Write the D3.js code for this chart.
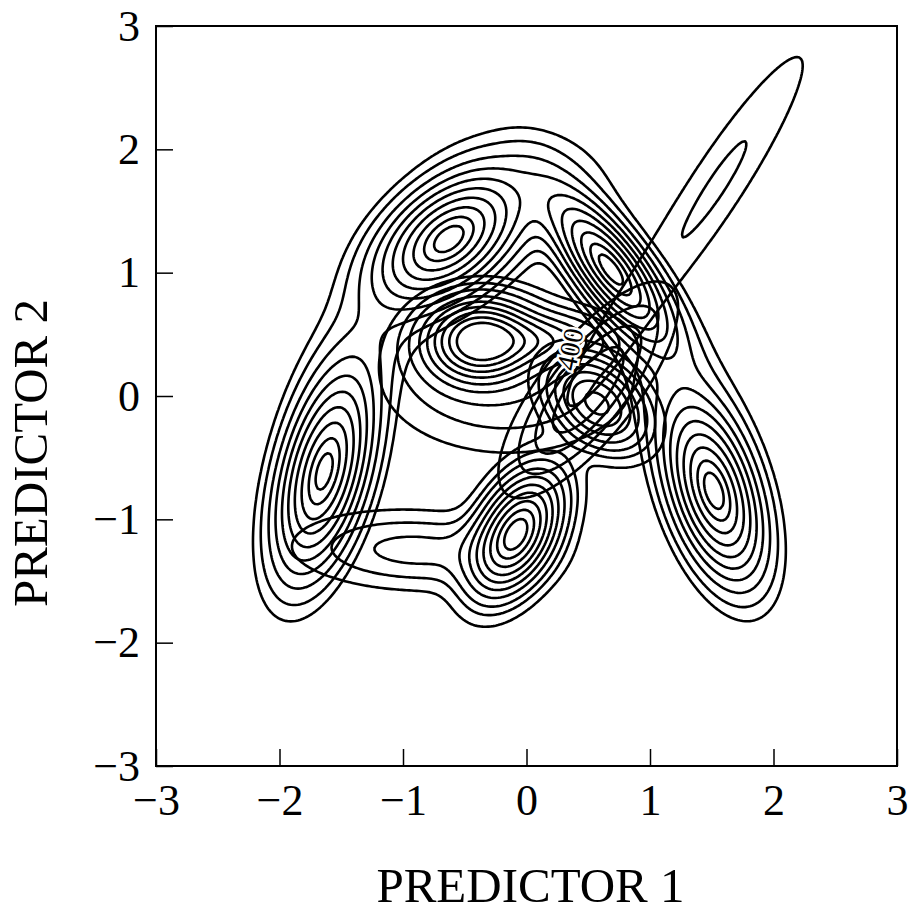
<!DOCTYPE html>
<html>
<head>
<meta charset="utf-8">
<script src="https://cdn.jsdelivr.net/npm/d3@7"></script>
<style>
  body { margin: 0; background: #fff; }
  svg text { font-family: "Liberation Serif", "DejaVu Serif", serif; fill: #000; }
</style>
</head>
<body>
<svg id="chart" width="914" height="915"></svg>
<script>
// axis ranges and tick values
let xDomain = [-3, 3];
let yDomain = [-3, 3];
let xTicks = [-3, -2, -1, 0, 1, 2, 3];
let yTicks = [-3, -2, -1, 0, 1, 2, 3];
let xTitle = 'PREDICTOR 1';
let yTitle = 'PREDICTOR 2';

// every bump: [centre x, centre y, spread along its axis, spread across, axis angle (deg), height]
// the four outer clusters, plus faint bridges that close them into the big "A"
let clusterBumps = [
    [-0.63, 1.27, 0.38, 0.23, 38, 1],
    [0.68, 1.03, 0.42, 0.15, -53, 1],
    [-1.64, -0.62, 0.48, 0.19, 75, 1],
    [1.52, -0.78, 0.42, 0.19, -72, 1],
    [0.00, 1.70, 0.45, 0.30, 0, 0.08],
    [-1.30, 0.45, 0.55, 0.25, 62, 0.08],
    [1.20, 0.10, 0.60, 0.25, -65, 0.08]
];
let clusterLevels = [0.035, 0.07, 0.13, 0.21, 0.31, 0.43, 0.57, 0.72, 0.86, 0.96];

// the central cluster with its tail and the wide plateau round it
let centreBumps = [
    [-0.38, 0.45, 0.26, 0.20, 0, 1],
    [0.15, 0.45, 0.30, 0.13, 0, 0.3],
    [-0.15, 0.15, 0.75, 0.45, 0, 0.15]
];
let centreLevels = [0.06, 0.1, 0.16, 0.25, 0.35, 0.47, 0.6, 0.75, 0.9];

// bottom cluster, the flat band to its left and the small cluster near the origin
let lowerBumps = [
    [-0.08, -1.11, 0.30, 0.17, 62, 1],
    [-0.90, -1.25, 0.55, 0.18, -2, 0.12],
    [0.57, -0.06, 0.25, 0.17, -40, 0.55]
];
let lowerLevels = [0.023, 0.056, 0.1, 0.17, 0.26, 0.37, 0.5, 0.65, 0.8, 0.93];

// long thin ridge running up to the top right
let ridgeBumps = [
    [1.55, 1.72, 0.58, 0.10, 57, 1],
    [0.80, 0.62, 0.55, 0.10, 57, 0.34]
];
let ridgeLevels = [0.11, 0.78];

// the labelled response surface crossing the small cluster
let responseBumps = [
    [0.50, 0.05, 0.50, 0.18, 52, 1]
];
let responseLevels = [0.1, 0.25, 0.45, 0.7];
let responseLabel = '400';
let responseLabelAt = [0.35, 0.38];

let svg = d3.select('#chart');
let margin = {top: 26, right: 17, bottom: 149, left: 156};
let width = 914 - margin.left - margin.right;
let height = 915 - margin.top - margin.bottom;

let xScale = d3.scaleLinear().domain(xDomain).range([margin.left, margin.left + width]);
let yScale = d3.scaleLinear().domain(yDomain).range([margin.top + height, margin.top]);

// sample a field of bumps on a square grid
let n = 300;
let step = (xDomain[1] - xDomain[0]) / n;

function sampleField(bumps) {
    let values = new Array(n * n);
    for (let j = 0; j < n; j++) {
        let y = yDomain[1] - (j + 0.5) * step;
        for (let i = 0; i < n; i++) {
            let x = xDomain[0] + (i + 0.5) * step;
            let v = 0;
            bumps.forEach(([cx, cy, a, b, ang, w]) => {
                let t = ang * Math.PI / 180;
                let dx = x - cx, dy = y - cy;
                let u = dx * Math.cos(t) + dy * Math.sin(t);
                let q = -dx * Math.sin(t) + dy * Math.cos(t);
                v += w * Math.exp(-0.5 * (u * u / (a * a) + q * q / (b * b)));
            });
            values[i + j * n] = v;
        }
    }
    return values;
}

// grid units -> screen
let toScreen = d3.geoTransform({
    point: function (gx, gy) {
        this.stream.point(xScale(xDomain[0] + gx * step), yScale(yDomain[1] - gy * step));
    }
});
let path = d3.geoPath(toScreen);

let fields = [
    [clusterBumps, clusterLevels],
    [centreBumps, centreLevels],
    [lowerBumps, lowerLevels],
    [ridgeBumps, ridgeLevels],
    [responseBumps, responseLevels]
];

let plot = svg.append('g').attr('id', 'contours');
fields.forEach(([bumps, levels]) => {
    let rings = d3.contours().size([n, n]).thresholds(levels)(sampleField(bumps));
    plot.append('g')
        .selectAll('path')
        .data(rings)
        .join('path')
        .attr('d', path)
        .attr('fill', 'none')
        .attr('stroke', '#000')
        .attr('stroke-width', 2.6)
        .attr('stroke-linejoin', 'round');
});

// contour label
plot.append('text')
    .attr('transform', `translate(${xScale(responseLabelAt[0])},${yScale(responseLabelAt[1])}) rotate(-78)`)
    .attr('text-anchor', 'middle')
    .attr('dy', '0.35em')
    .style('font-size', '28px')
    .style('paint-order', 'stroke')
    .style('stroke', '#fff')
    .style('stroke-width', 5)
    .text(responseLabel);

// frame
svg.append('rect')
    .attr('x', margin.left)
    .attr('y', margin.top)
    .attr('width', width)
    .attr('height', height)
    .attr('fill', 'none')
    .attr('stroke', '#000')
    .attr('stroke-width', 2);

// axes with ticks pointing inward
let fmt = d3.format('d');
let xAxis = d3.axisBottom(xScale).tickValues(xTicks).tickFormat(fmt)
    .tickSizeInner(-17).tickSizeOuter(0).tickPadding(18);
let yAxis = d3.axisLeft(yScale).tickValues(yTicks).tickFormat(fmt)
    .tickSizeInner(-17).tickSizeOuter(0).tickPadding(16);

svg.append('g')
    .attr('transform', `translate(0,${margin.top + height})`)
    .call(xAxis)
    .call(g => g.select('.domain').remove())
    .call(g => g.selectAll('line').attr('stroke', '#000').attr('stroke-width', 1.5))
    .call(g => g.selectAll('text').style('font-size', '44px'));

svg.append('g')
    .attr('transform', `translate(${margin.left},0)`)
    .call(yAxis)
    .call(g => g.select('.domain').remove())
    .call(g => g.selectAll('line').attr('stroke', '#000').attr('stroke-width', 1.5))
    .call(g => g.selectAll('text').style('font-size', '44px'));

// axis titles
svg.append('text')
    .attr('x', xScale(0) + 4)
    .attr('y', 902)
    .attr('text-anchor', 'middle')
    .style('font-size', '49px')
    .text(xTitle);

svg.append('text')
    .attr('transform', `translate(47,453) rotate(-90)`)
    .attr('text-anchor', 'middle')
    .style('font-size', '49px')
    .text(yTitle);
</script>
</body>
</html>
